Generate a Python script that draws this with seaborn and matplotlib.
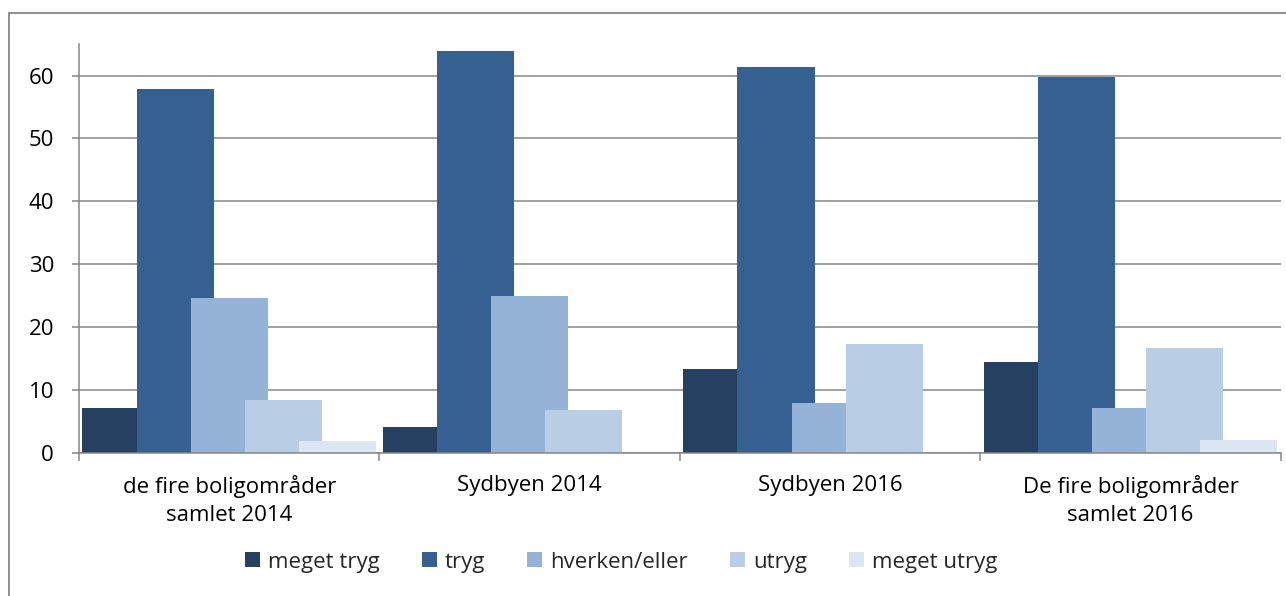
import pandas as pd
import matplotlib
matplotlib.use("Agg")
import matplotlib.pyplot as plt
import seaborn as sns
from matplotlib.patches import Rectangle, Patch

# DATA (percent)
categories = ["de fire boligområder\nsamlet 2014", "Sydbyen 2014",
              "Sydbyen 2016", "De fire boligområder\nsamlet 2016"]
levels = ["meget tryg", "tryg", "hverken/eller", "utryg", "meget utryg"]
meget_tryg = [7.1, 4.1, 13.3, 14.5]
tryg = [57.9, 63.9, 61.3, 59.7]
hverken_eller = [24.6, 25.0, 8.0, 7.1]
utryg = [8.4, 6.9, 17.3, 16.7]
meget_utryg = [1.9, 0.0, 0.0, 2.0]
colors = ["#254061", "#376092", "#95B3D7", "#B9CDE5", "#DCE6F2"]

series = [meget_tryg, tryg, hverken_eller, utryg, meget_utryg]
rows = []
for lev, vals in zip(levels, series):
    for cat, v in zip(categories, vals):
        rows.append({"område": cat, "svar": lev, "pct": v})
df = pd.DataFrame(rows)

sns.set_theme(style="white")
plt.rcParams["font.family"] = ["Open Sans", "DejaVu Sans"]
GRID = "#868686"
FS = 16

fig = plt.figure(figsize=(12.86, 5.96), dpi=100)
ax = fig.add_axes([0.0614, 0.240, 0.9346, 0.686])

sns.barplot(data=df, x="område", y="pct", hue="svar", order=categories,
            hue_order=levels, palette=colors, saturation=1, width=0.9,
            dodge=True, ax=ax, legend=False, edgecolor="none")

# Excel-style overlapping columns: widen each bar around its own centre
new_w = 0.257
for cont in ax.containers:
    for bar in cont:
        cx = bar.get_x() + bar.get_width() / 2
        bar.set_width(new_w)
        bar.set_x(cx - new_w / 2)

ax.set_ylim(0, 65)
ax.set_xlim(-0.5, 3.5)
ax.set_yticks([0, 10, 20, 30, 40, 50, 60])
ax.yaxis.grid(True, color=GRID, lw=1.1)
ax.set_axisbelow(True)
ax.set_xlabel("")
ax.set_ylabel("")

for s in ["top", "right"]:
    ax.spines[s].set_visible(False)
for s in ["left", "bottom"]:
    ax.spines[s].set_color(GRID)
    ax.spines[s].set_linewidth(1.1)

ax.tick_params(axis="y", which="major", length=5, color=GRID, width=1.1,
               left=True, pad=13, labelsize=FS, labelcolor="black")
ax.set_xticks([-0.5, 0.5, 1.5, 2.5, 3.5], minor=True)
ax.tick_params(axis="x", which="minor", length=6, color=GRID, width=1.1,
               bottom=True, direction="out")
ax.tick_params(axis="x", which="major", length=0, pad=16, labelsize=FS,
               labelcolor="black")
for lab in ax.get_xticklabels():
    lab.set_linespacing(1.4)

handles = [Patch(facecolor=c, edgecolor="none", label=l) for c, l in zip(colors, levels)]
fig.legend(handles=handles, loc="center", bbox_to_anchor=(0.483, 0.057),
           ncol=5, frameon=False, fontsize=FS, handlelength=0.68,
           handleheight=0.68, handletextpad=0.35, columnspacing=1.9)

# outer chart frame (cropped on right and bottom)
fig.add_artist(Rectangle((0.007, -0.1), 1.1, 0.978 + 0.1,
                         transform=fig.transFigure, fill=False,
                         edgecolor=GRID, lw=1.3))

plt.savefig("out.png", dpi=100)
